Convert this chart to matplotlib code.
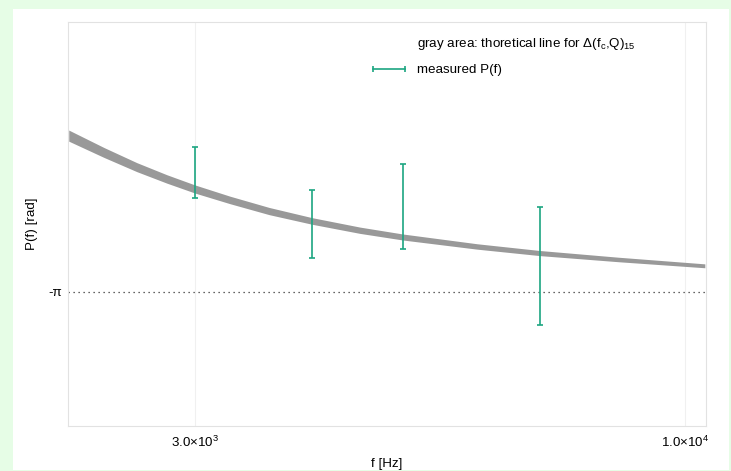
import numpy as np
import matplotlib.pyplot as plt
from matplotlib.lines import Line2D
from matplotlib.patches import Rectangle
from matplotlib.ticker import FixedLocator, NullLocator

plt.rcParams['font.family'] = ['Liberation Sans', 'DejaVu Sans']
plt.rcParams['font.size'] = 9.6
plt.rcParams['mathtext.fontset'] = 'custom'
plt.rcParams['mathtext.rm'] = 'Liberation Sans'
plt.rcParams['mathtext.it'] = 'Liberation Sans:italic'

# measured phase with uncertainty
f_meas = [3000, 4000, 5000, 7000]
p_meas = [-2.348, -2.688, -2.574, -2.968]
p_err = [0.17, 0.227, 0.283, 0.395]

# theoretical band (centre and half width)
f_theo = [2200, 2400, 2600, 2800, 3000, 3270, 3600, 4000, 4500, 5000,
          6000, 7000, 8500, 10500]
p_theo = [-2.099, -2.212, -2.309, -2.388, -2.455, -2.528, -2.602, -2.668,
          -2.730, -2.775, -2.838, -2.882, -2.925, -2.967]
p_half = [0.037, 0.033, 0.030, 0.028, 0.027, 0.025, 0.024, 0.022,
          0.021, 0.020, 0.018, 0.017, 0.015, 0.013]

xticks = [3000, 10000]
xticklabels = [r'3.0$\times$10$^{3}$', r'1.0$\times$10$^{4}$']

green = '#1ca681'

fig = plt.figure(figsize=(7.31, 4.71), dpi=100, facecolor='#e6fde6')
# white panel behind the axes
fig.add_artist(Rectangle((13/731, 1/471), 716/731, 461/471,
                         transform=fig.transFigure, facecolor='white',
                         edgecolor='none', zorder=-5))
ax = fig.add_axes([68/731, 45/471, 638/731, 404/471])

lo = np.array(p_theo) - np.array(p_half)
hi = np.array(p_theo) + np.array(p_half)
ax.fill_between(f_theo, lo, hi, color='#999999', linewidth=0, zorder=2)

ax.axhline(-np.pi, color='#333333', linestyle=(0, (1, 3)), linewidth=0.9, zorder=1)

ax.errorbar(f_meas, p_meas, yerr=p_err, fmt='none', ecolor=green,
            elinewidth=1.2, capsize=2.2, capthick=1.2, zorder=3)

ax.set_xscale('log')
ax.set_xlim(2196, 10530)
ax.set_ylim(-np.pi - 134/150, -np.pi + 270/150)
ax.xaxis.set_major_locator(FixedLocator(xticks))
ax.xaxis.set_minor_locator(NullLocator())
ax.set_xticklabels(xticklabels)
ax.set_yticks([-np.pi])
ax.set_yticklabels(['-π'])
ax.tick_params(axis='x', length=0, pad=6)
ax.tick_params(axis='y', length=0, pad=4)
ax.grid(axis='x', color='#f0f0f0', linewidth=0.8)
for sp in ax.spines.values():
    sp.set_color('#e2e2e2')
    sp.set_linewidth(0.8)

ax.set_xlabel('f [Hz]', labelpad=6)
ax.set_ylabel('P(f) [rad]', labelpad=8)

# legend: plain text line, then a horizontal error-bar key
blank = Line2D([], [], alpha=0)
key = Line2D([], [], color=green, linewidth=1.2, marker='|',
             markersize=5, markeredgewidth=1.2)
ax.legend([blank, key],
          [r'gray area: thoretical line for Δ(f$_\mathrm{c}$,Q)$_{15}$', 'measured P(f)'],
          loc='upper left', bbox_to_anchor=(0.453, 0.995), frameon=False,
          numpoints=2, handlelength=3.0, handletextpad=0.6, labelspacing=0.9)

fig.savefig('out.png', dpi=100, facecolor=fig.get_facecolor())
